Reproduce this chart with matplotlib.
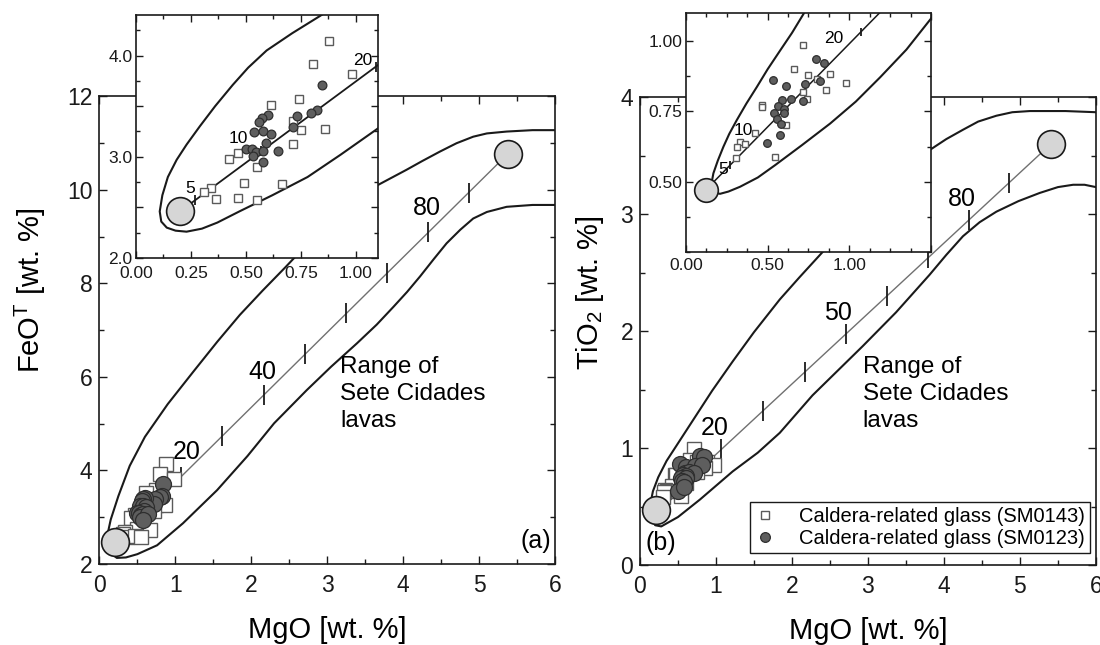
import numpy as np
import matplotlib
matplotlib.use('Agg')
import matplotlib.pyplot as plt
from matplotlib.ticker import MultipleLocator, FixedLocator, FuncFormatter

plt.rcParams['font.family'] = ['Liberation Sans', 'DejaVu Sans']
plt.rcParams['mathtext.default'] = 'regular'

# ---- data ----
# end-members of the mixing line (MgO, oxide)
FEO_END_MGO = [0.20, 5.38]
FEO_END_VAL = [2.46, 10.78]
TIO_END_MGO = [0.21, 5.41]
TIO_END_VAL = [0.47, 3.60]
TIO_INSET_END_MGO = [0.12, 5.41]

# mixing-percentage tick positions (MgO) on the main plots and insets
MIX_TICK_MGO = [0.53, 1.07, 1.62, 2.17, 2.71, 3.25, 3.79, 4.33, 4.86]
FEO_INSET_TICK_MGO = [0.27, 0.57, 1.09]
TIO_INSET_TICK_MGO = [0.27, 0.55, 1.07]

# range of Sete Cidades lavas (main plots)
FEO_RANGE_MGO = [6.00, 5.70, 5.36, 5.10, 4.92, 4.70, 4.48, 4.25, 4.04, 3.67, 3.35, 3.00,
                 2.70, 2.45, 2.15, 1.85, 1.55, 1.24, 0.90, 0.60, 0.40, 0.25, 0.15, 0.11,
                 0.12, 0.16, 0.23, 0.35, 0.50, 0.76, 1.10, 1.55, 1.95, 2.30, 2.73, 3.05,
                 3.39, 3.65, 3.87, 4.05, 4.22, 4.40, 4.57, 4.75, 4.92, 5.10, 5.36, 5.70, 6.00]
FEO_RANGE_VAL = [11.28, 11.28, 11.25, 11.21, 11.14, 11.00, 10.82, 10.62, 10.43, 10.11, 9.72, 9.22,
                 8.78, 8.35, 7.85, 7.33, 6.75, 6.12, 5.42, 4.72, 4.10, 3.45, 2.95, 2.65,
                 2.40, 2.22, 2.13, 2.14, 2.21, 2.40, 2.87, 3.58, 4.31, 5.01, 5.72, 6.22,
                 6.72, 7.12, 7.50, 7.82, 8.15, 8.52, 8.86, 9.15, 9.39, 9.53, 9.64, 9.68, 9.68]
TIO_RANGE_MGO = [6.00, 5.60, 5.13, 4.90, 4.69, 4.45, 4.25, 4.03, 3.82, 3.50, 3.20, 2.80,
                 2.41, 2.10, 1.84, 1.50, 1.22, 0.95, 0.70, 0.50, 0.35, 0.24, 0.17, 0.13,
                 0.15, 0.20, 0.28, 0.50, 0.79, 1.22, 1.55, 1.84, 2.27, 2.60, 2.93, 3.37,
                 3.81, 4.03, 4.25, 4.47, 4.69, 4.98, 5.26, 5.50, 5.70, 5.85, 6.00]
TIO_RANGE_VAL = [3.87, 3.88, 3.88, 3.87, 3.84, 3.79, 3.72, 3.64, 3.55, 3.39, 3.21, 2.95,
                 2.68, 2.46, 2.27, 1.99, 1.74, 1.49, 1.24, 1.04, 0.89, 0.75, 0.63, 0.50,
                 0.40, 0.34, 0.33, 0.41, 0.56, 0.80, 0.96, 1.13, 1.45, 1.66, 1.87, 2.16,
                 2.48, 2.65, 2.81, 2.93, 3.02, 3.11, 3.18, 3.23, 3.25, 3.25, 3.23]

# range in the insets
FEO_INSET_RANGE_MGO = [0.90, 0.836, 0.71, 0.594, 0.51, 0.44, 0.36, 0.29, 0.23, 0.185, 0.145,
                       0.12, 0.108, 0.115, 0.14, 0.18, 0.23, 0.30, 0.37, 0.47, 0.62, 0.78,
                       0.93, 1.10, 1.15]
FEO_INSET_RANGE_VAL = [4.48, 4.39, 4.22, 4.05, 3.88, 3.71, 3.50, 3.30, 3.12, 2.97, 2.80,
                       2.62, 2.46, 2.36, 2.30, 2.27, 2.26, 2.29, 2.35, 2.46, 2.62, 2.80,
                       3.02, 3.28, 3.36]
TIO_INSET_RANGE_MGO = [0.76, 0.72, 0.65, 0.577, 0.50, 0.434, 0.37, 0.311, 0.265, 0.229, 0.195,
                       0.168, 0.155, 0.16, 0.18, 0.209, 0.26, 0.331, 0.44, 0.546, 0.71,
                       0.883, 1.04, 1.19, 1.35, 1.50, 1.55]
TIO_INSET_RANGE_VAL = [1.15, 1.097, 1.03, 0.967, 0.90, 0.837, 0.778, 0.719, 0.67, 0.624, 0.575,
                       0.53, 0.49, 0.47, 0.46, 0.457, 0.465, 0.482, 0.515, 0.559, 0.63,
                       0.707, 0.785, 0.872, 0.97, 1.08, 1.12]

# Caldera-related glass SM0143 (open squares) and SM0123 (filled circles)
FEO_SQ_MGO = [0.879, 0.803, 0.980, 0.742, 0.612, 0.715, 0.750, 0.858, 0.715, 0.465,
              0.423, 0.549, 0.490, 0.665, 0.341, 0.310, 0.362, 0.465, 0.549]
FEO_SQ_VAL = [4.14, 3.92, 3.82, 3.575, 3.51, 3.35, 3.26, 3.27, 3.13, 3.04,
              2.98, 2.90, 2.74, 2.73, 2.69, 2.65, 2.58, 2.59, 2.57]
FEO_CI_MGO = [0.844, 0.824, 0.794, 0.730, 0.715, 0.600, 0.574, 0.558, 0.538, 0.579,
              0.614, 0.590, 0.500, 0.526, 0.544, 0.579, 0.530, 0.644, 0.576]
FEO_CI_VAL = [3.706, 3.46, 3.43, 3.40, 3.29, 3.41, 3.38, 3.34, 3.24, 3.25,
              3.22, 3.14, 3.08, 3.08, 3.05, 3.06, 3.01, 3.06, 2.95]

TIO_SQ_MGO = [0.716, 0.663, 0.750, 0.800, 0.880, 0.977, 0.855, 0.718, 0.744, 0.466,
              0.468, 0.610, 0.425, 0.331, 0.362, 0.315, 0.307, 0.546]
TIO_SQ_VAL = [0.988, 0.900, 0.880, 0.865, 0.882, 0.851, 0.828, 0.819, 0.794, 0.772,
              0.766, 0.700, 0.674, 0.640, 0.634, 0.622, 0.584, 0.589]
TIO_CI_MGO = [0.796, 0.843, 0.530, 0.610, 0.726, 0.820, 0.587, 0.644, 0.714, 0.566,
              0.600, 0.540, 0.600, 0.556, 0.580, 0.495, 0.577]
TIO_CI_VAL = [0.935, 0.924, 0.861, 0.839, 0.846, 0.858, 0.790, 0.794, 0.786, 0.768,
              0.760, 0.743, 0.745, 0.722, 0.707, 0.636, 0.666]

LABEL_SQ = 'Caldera-related glass (SM0143)'
LABEL_CI = 'Caldera-related glass (SM0123)'

COLORS = {
    'line': '#1a1a1a',
    'mix': '#707070',
    'end_face': '#d6d6d6',
    'circle': '#5e5e5e',
    'circle_edge': '#2e2e2e',
    'square_edge': '#5a5a5a',
}


def style_axes(ax, tick_size, major_len, minor_len):
    ax.tick_params(which='both', direction='in', top=True, right=True, width=1.0,
                   labelsize=tick_size, colors=COLORS['line'])
    ax.tick_params(which='major', length=major_len)
    ax.tick_params(which='minor', length=minor_len)
    for sp in ax.spines.values():
        sp.set_linewidth(1.2)
        sp.set_color(COLORS['line'])


def draw_panel(ax, rng_x, rng_y, end_x, end_y, tick_x, sq_x, sq_y, ci_x, ci_y,
               sq_ms, ci_ms, end_ms, tick_ms, mix_color, mix_lw):
    ax.plot(rng_x, rng_y, color=COLORS['line'], lw=1.5, zorder=2, solid_joinstyle='round')
    ax.plot(end_x, end_y, color=mix_color, lw=mix_lw, zorder=3)
    ax.plot(tick_x, np.interp(tick_x, end_x, end_y), ls='none', marker='|',
            ms=tick_ms, mew=1.3, color=COLORS['line'], zorder=3)
    ax.plot(sq_x, sq_y, ls='none', marker='s', ms=sq_ms, mfc='white',
            mec=COLORS['square_edge'], mew=1.0, zorder=4)
    ax.plot(ci_x, ci_y, ls='none', marker='o', ms=ci_ms, mfc=COLORS['circle'],
            mec=COLORS['circle_edge'], mew=0.9, zorder=5)
    ax.plot(end_x, end_y, ls='none', marker='o', ms=end_ms, mfc=COLORS['end_face'],
            mec=COLORS['line'], mew=1.2, zorder=6)


fig = plt.figure(figsize=(11, 6.45), dpi=100)

# ---------------- (a) FeO ----------------
ax1 = fig.add_axes([0.0903, 0.1256, 0.4145, 0.7248])
draw_panel(ax1, FEO_RANGE_MGO, FEO_RANGE_VAL, FEO_END_MGO, FEO_END_VAL, MIX_TICK_MGO,
           FEO_SQ_MGO, FEO_SQ_VAL, FEO_CI_MGO, FEO_CI_VAL,
           sq_ms=10, ci_ms=11.5, end_ms=20, tick_ms=14, mix_color=COLORS['mix'], mix_lw=1.0)
ax1.set_xlim(0, 6)
ax1.set_ylim(2, 12)
ax1.xaxis.set_major_locator(MultipleLocator(1))
ax1.xaxis.set_minor_locator(MultipleLocator(0.5))
ax1.yaxis.set_major_locator(MultipleLocator(2))
ax1.yaxis.set_minor_locator(MultipleLocator(1))
style_axes(ax1, 16.5, 6, 3.5)
ax1.tick_params(axis='x', pad=7)
ax1.tick_params(axis='y', pad=5)
ax1.set_xlabel('MgO [wt. %]', fontsize=21, labelpad=14)
ax1.set_ylabel('FeO$^{T}$ [wt. %]', fontsize=21)
ax1.yaxis.set_label_coords(-0.113, 0.586)
ax1.text(3.17, 6.45, 'Range of\nSete Cidades\nlavas', fontsize=17.5, va='top', ha='left',
         linespacing=1.3)
ax1.text(1.15, 4.40, '20', fontsize=18, ha='center', va='center')
ax1.text(2.14, 6.11, '40', fontsize=18, ha='center', va='center')
ax1.text(4.31, 9.61, '80', fontsize=18, ha='center', va='center')
ax1.text(5.94, 2.5, '(a)', fontsize=18, ha='right', va='center')

# inset (a)
in1 = fig.add_axes([0.1236, 0.600, 0.2200, 0.3767])
in1.set_facecolor('white')
draw_panel(in1, FEO_INSET_RANGE_MGO, FEO_INSET_RANGE_VAL, FEO_END_MGO, FEO_END_VAL,
           FEO_INSET_TICK_MGO, FEO_SQ_MGO, FEO_SQ_VAL, FEO_CI_MGO, FEO_CI_VAL,
           sq_ms=5.5, ci_ms=6.3, end_ms=20, tick_ms=7, mix_color=COLORS['line'], mix_lw=1.3)
in1.set_xlim(0, 1.1)
in1.set_ylim(2.0, 4.4)
in1.xaxis.set_major_locator(MultipleLocator(0.25))
in1.xaxis.set_minor_locator(MultipleLocator(0.125))
in1.xaxis.set_major_formatter(FuncFormatter(lambda v, p: f'{v:.2f}'))
in1.yaxis.set_major_locator(MultipleLocator(0.5))
in1.yaxis.set_minor_locator(MultipleLocator(0.25))
in1.yaxis.set_major_formatter(FuncFormatter(lambda v, p: f'{v:.1f}' if abs(v - round(v)) < 1e-6 else ''))
style_axes(in1, 12.5, 5, 3)
in1.tick_params(axis='x', pad=5.5)
in1.tick_params(axis='y', pad=2.5)
in1.text(0.245, 2.69, '5', fontsize=12.5, ha='center', va='center')
in1.text(0.465, 3.18, '10', fontsize=12.5, ha='center', va='center')
in1.text(1.03, 3.95, '20', fontsize=12.5, ha='center', va='center')

# ---------------- (b) TiO2 ----------------
ax2 = fig.add_axes([0.5818, 0.1240, 0.4145, 0.7256])
draw_panel(ax2, TIO_RANGE_MGO, TIO_RANGE_VAL, TIO_END_MGO, TIO_END_VAL, MIX_TICK_MGO,
           TIO_SQ_MGO, TIO_SQ_VAL, TIO_CI_MGO, TIO_CI_VAL,
           sq_ms=10, ci_ms=11.5, end_ms=20, tick_ms=14, mix_color=COLORS['mix'], mix_lw=1.0)
ax2.set_xlim(0, 6)
ax2.set_ylim(0, 4)
ax2.xaxis.set_major_locator(MultipleLocator(1))
ax2.xaxis.set_minor_locator(MultipleLocator(0.5))
ax2.yaxis.set_major_locator(MultipleLocator(1))
ax2.yaxis.set_minor_locator(MultipleLocator(0.5))
style_axes(ax2, 16.5, 6, 3.5)
ax2.tick_params(axis='x', pad=7)
ax2.tick_params(axis='y', pad=5)
ax2.set_xlabel('MgO [wt. %]', fontsize=21, labelpad=14)
ax2.set_ylabel('TiO$_{2}$ [wt. %]', fontsize=21)
ax2.yaxis.set_label_coords(-0.074, 0.583)
ax2.text(2.93, 1.79, 'Range of\nSete Cidades\nlavas', fontsize=17.5, va='top', ha='left',
         linespacing=1.3)
ax2.text(0.98, 1.17, '20', fontsize=18, ha='center', va='center')
ax2.text(2.60, 2.15, '50', fontsize=18, ha='center', va='center')
ax2.text(4.24, 3.13, '80', fontsize=18, ha='center', va='center')
ax2.text(0.07, 0.19, '(b)', fontsize=18, ha='left', va='center')

h_sq, = ax2.plot([], [], ls='none', marker='s', ms=6, mfc='white', mec=COLORS['square_edge'], mew=1.0)
h_ci, = ax2.plot([], [], ls='none', marker='o', ms=7, mfc=COLORS['circle'], mec=COLORS['circle_edge'], mew=0.9)
leg = ax2.legend([h_sq, h_ci], [LABEL_SQ, LABEL_CI], loc='lower right',
                 bbox_to_anchor=(0.987, 0.026), borderaxespad=0, fontsize=14.5,
                 frameon=True, fancybox=False, framealpha=1, edgecolor=COLORS['line'],
                 handlelength=1.0, handletextpad=1.2, borderpad=0.25, labelspacing=0.15)
leg.get_frame().set_linewidth(1.0)

# inset (b)
in2 = fig.add_axes([0.6236, 0.6093, 0.2227, 0.3705])
in2.set_facecolor('white')
draw_panel(in2, TIO_INSET_RANGE_MGO, TIO_INSET_RANGE_VAL, TIO_INSET_END_MGO, TIO_END_VAL,
           TIO_INSET_TICK_MGO, TIO_SQ_MGO, TIO_SQ_VAL, TIO_CI_MGO, TIO_CI_VAL,
           sq_ms=4.8, ci_ms=5.5, end_ms=17, tick_ms=6, mix_color=COLORS['line'], mix_lw=1.1)
in2.set_xlim(0, 1.5)
in2.set_ylim(0.25, 1.1)
in2.xaxis.set_major_locator(MultipleLocator(0.5))
in2.xaxis.set_minor_locator(MultipleLocator(0.125))
in2.xaxis.set_major_formatter(FuncFormatter(lambda v, p: f'{v:.2f}' if v < 1.4 else ''))
in2.yaxis.set_major_locator(FixedLocator([0.5, 0.75, 1.0]))
in2.yaxis.set_minor_locator(MultipleLocator(0.125))
in2.yaxis.set_major_formatter(FuncFormatter(lambda v, p: f'{v:.2f}'))
style_axes(in2, 12.5, 5, 3)
in2.tick_params(axis='x', pad=4.5)
in2.tick_params(axis='y', pad=2.5)
in2.text(0.229, 0.544, '5', fontsize=12.5, ha='center', va='center')
in2.text(0.35, 0.683, '10', fontsize=12.5, ha='center', va='center')
in2.text(0.908, 1.008, '20', fontsize=12.5, ha='center', va='center')

fig.savefig('out.png', dpi=100)
